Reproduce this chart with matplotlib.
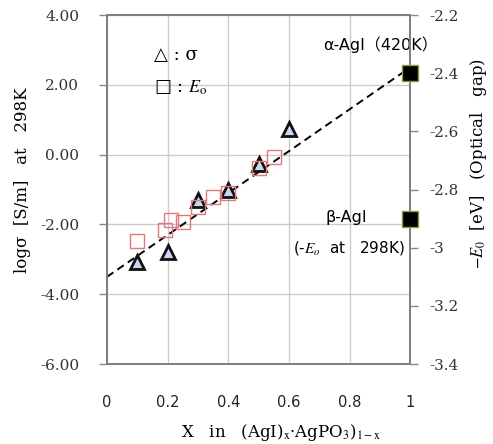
import numpy as np
import matplotlib
matplotlib.use("Agg")
import matplotlib.pyplot as plt

plt.rcParams['mathtext.fontset'] = 'stix'

# conductivity (left axis), log sigma [S/m] at 298K
x_sigma = [0.1, 0.2, 0.3, 0.4, 0.5, 0.6]
logsig = [-3.08, -2.78, -1.30, -1.01, -0.28, 0.74]

# optical gap (right axis), -E0 [eV]
x_e0 = [0.1, 0.19, 0.21, 0.25, 0.3, 0.35, 0.4, 0.5, 0.55]
neg_e0 = [-2.977, -2.939, -2.905, -2.911, -2.859, -2.825, -2.813, -2.727, -2.687]

# AgI reference points (right axis)
x_agi = [1.0, 1.0]
neg_e0_agi = [-2.40, -2.90]

# dashed guide line (left axis)
x_fit = [0.0, 1.0]
y_fit = [-3.5, 2.5]

xticks = [0, 0.2, 0.4, 0.6, 0.8, 1]
xtick_labels = ["0", "0.2", "0.4", "0.6", "0.8", "1"]
yticks_l = [4, 2, 0, -2, -4, -6]
ytick_labels_l = ["4.00", "2.00", "0.00", "-2.00", "-4.00", "-6.00"]
yticks_r = [-2.2, -2.4, -2.6, -2.8, -3.0, -3.2, -3.4]
ytick_labels_r = ["-2.2", "-2.4", "-2.6", "-2.8", "-3", "-3.2", "-3.4"]

fig = plt.figure(figsize=(4.93, 4.44), dpi=100)
ax = fig.add_axes([0.217, 0.18, 0.615, 0.786])
ax2 = ax.twinx()

ax.set_xlim(0, 1)
ax.set_ylim(-6, 4)
ax2.set_ylim(-3.4, -2.2)

ax.set_xticks(xticks)
ax.set_xticklabels(xtick_labels, fontsize=10.5, family='DejaVu Sans', color='#222222')
ax.set_yticks(yticks_l)
ax.set_yticklabels(ytick_labels_l, fontsize=11, family='DejaVu Serif', color='#333333')
ax2.set_yticks(yticks_r)
ax2.set_yticklabels(ytick_labels_r, fontsize=11, family='DejaVu Serif', color='#333333')

ax.grid(True, color='#cccccc', lw=1)
ax.set_axisbelow(True)
ax.tick_params(axis='x', length=0, pad=22)
ax.tick_params(axis='y', length=6, width=1, color='#888888', pad=14)
ax2.tick_params(axis='y', length=6, width=1, color='#888888', pad=8)
for a in (ax, ax2):
    for s in a.spines.values():
        s.set_color('#808080')
        s.set_linewidth(1.3)

ax.plot(x_fit, y_fit, ls=(0, (4, 2.5)), color='black', lw=1.4, zorder=3)
ax2.plot(x_e0, neg_e0, ls='none', marker='s', ms=9.5, mfc='none',
         mec='#e07a7a', mew=1.0, zorder=4)
ax.plot(x_sigma, logsig, ls='none', marker='^', ms=9.5, mfc='#c8d6f0',
        mec='#111111', mew=2.0, zorder=5)
ax2.plot(x_agi, neg_e0_agi, ls='none', marker='s', ms=11, mfc='black',
         mec='#8a9a40', mew=1.0, clip_on=False, zorder=6)

# legend written as text
ax.text(0.155, 0.885, "△ : σ", transform=ax.transAxes, fontsize=13,
        family=['DejaVu Serif', 'DejaVu Sans'], va='center', ha='left')
ax.text(0.155, 0.791, "□ : $E_{\\rm o}$", transform=ax.transAxes, fontsize=13,
        family=['DejaVu Serif', 'DejaVu Sans'], va='center', ha='left')

ax.text(0.713, 0.914, "α-AgI（420K）", transform=ax.transAxes, fontsize=11.5,
        family=['DejaVu Sans', 'Noto Sans CJK JP'], va='center', ha='left',
        clip_on=False)
ax.text(0.789, 0.421, "β-AgI", transform=ax.transAxes, fontsize=11.5,
        family='DejaVu Sans', va='center', ha='center')
ax.text(0.799, 0.332, "(-$E_o$  at   298K)", transform=ax.transAxes, fontsize=11,
        family='DejaVu Sans', va='center', ha='center')

fig.text(0.045, 0.595, "logσ  [S/m]   at   298K", rotation=90, fontsize=12,
         family='DejaVu Serif', va='center', ha='center')
fig.text(0.970, 0.631, "$-E_0$  [eV]   (Optical   gap)", rotation=90, fontsize=12,
         family='DejaVu Serif', va='center', ha='center')
fig.text(0.570, 0.025, "X   in   (AgI)$_{\\rm x}$·AgPO$_3$)$_{\\rm 1-x}$", fontsize=12,
         family='DejaVu Serif', va='center', ha='center')

fig.savefig("out.png", dpi=100)
